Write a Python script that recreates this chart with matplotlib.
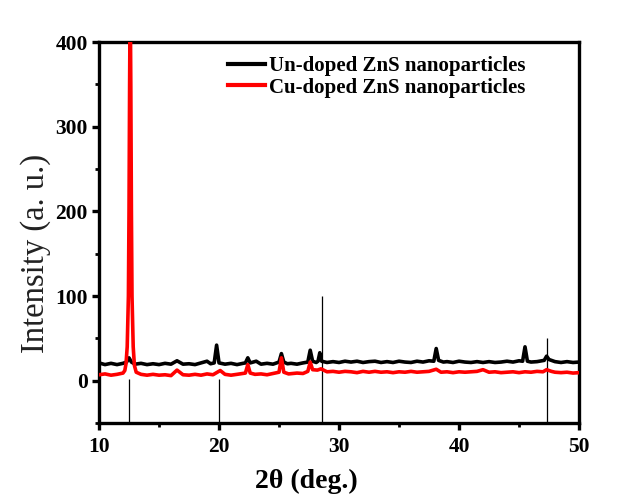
import matplotlib
matplotlib.use('Agg')
import matplotlib.pyplot as plt
from matplotlib.ticker import MultipleLocator

plt.rcParams['font.family'] = ['Liberation Serif', 'DejaVu Serif']

# un-doped ZnS pattern (2theta, intensity)
undoped_x = [10.0, 10.5, 11.0, 11.5, 12.0, 12.3, 12.5, 12.7, 13.0, 13.5,
             14.0, 14.5, 15.0, 15.5, 16.0, 16.5, 17.0, 17.5, 18.0, 18.5,
             19.0, 19.3, 19.6, 19.8, 20.0, 20.5, 21.0, 21.5, 22.0, 22.2,
             22.4, 22.6, 23.1, 23.5, 24.0, 24.5, 25.0, 25.2, 25.4, 25.7,
             26.0, 26.5, 27.0, 27.4, 27.6, 27.8, 28.1, 28.25, 28.4, 28.55,
             29.0, 29.5, 30.0, 30.5, 31.0, 31.5, 32.0, 32.5, 33.0, 33.5,
             34.0, 34.5, 35.0, 35.5, 36.0, 36.5, 37.0, 37.5, 37.9, 38.1,
             38.3, 38.7, 39.0, 39.5, 40.0, 40.5, 41.0, 41.5, 42.0, 42.5,
             43.0, 43.5, 44.0, 44.5, 45.0, 45.3, 45.5, 45.7, 46.0, 46.5,
             47.1, 47.3, 47.5, 48.0, 48.5, 49.0, 49.5, 50.0]
undoped_y = [21, 19, 20.5, 19, 20.5, 22, 27, 22, 19.5, 20.5,
             19, 20, 19, 20.5, 19.5, 23.5, 19.5, 20, 19, 21,
             23, 20, 21, 42, 21, 19.5, 20.5, 19, 20.5, 21,
             27, 21, 23, 19.5, 20.5, 19.5, 22, 32, 22, 20,
             20.5, 19.5, 21, 22, 36, 23, 21.5, 23, 33, 23,
             21.5, 22.5, 21.5, 23, 22, 23, 21.5, 22.5, 23, 21.5,
             22.5, 21.5, 23, 22, 21.5, 23, 22, 23.5, 23, 38,
             24, 22, 22.5, 21.5, 23, 22, 21.5, 22.5, 21.5, 22.5,
             21.5, 22, 23, 22, 23.5, 23, 40, 23, 22, 22.5,
             24, 29, 25, 22.5, 21.5, 22.5, 21.5, 22]

# Cu-doped ZnS pattern
cudoped_x = [10.0, 10.5, 11.0, 11.5, 12.0, 12.15, 12.25, 12.35, 12.45, 12.5,
             12.55, 12.6, 12.65, 12.7, 12.75, 12.85, 12.95, 13.1, 13.5, 14.0,
             14.5, 15.0, 15.5, 16.0, 16.5, 17.0, 17.5, 18.0, 18.5, 19.0,
             19.5, 20.1, 20.5, 21.0, 21.5, 22.2, 22.4, 22.6, 23.0, 23.5,
             24.0, 24.5, 25.0, 25.2, 25.4, 25.8, 26.5, 27.0, 27.4, 27.6,
             27.8, 28.2, 28.5, 29.0, 29.5, 30.0, 30.5, 31.0, 31.5, 32.0,
             32.5, 33.0, 33.5, 34.0, 34.5, 35.0, 35.5, 36.0, 36.5, 37.0,
             37.5, 38.1, 38.5, 39.0, 39.5, 40.0, 40.5, 41.0, 41.5, 42.0,
             42.5, 43.0, 43.5, 44.0, 44.5, 45.0, 45.5, 46.0, 46.5, 47.0,
             47.3, 47.7, 48.0, 48.5, 49.0, 49.5, 50.0]
cudoped_y = [7, 8, 6.5, 7.5, 9, 12, 20, 40, 100, 200,
             350, 460, 350, 200, 100, 40, 18, 10, 7.5, 6.5,
             7.5, 6.5, 7, 6, 12.5, 7, 6.5, 7.5, 6.5, 8,
             7, 12, 7.5, 6.5, 7.5, 9, 19, 9, 7.5, 8,
             7, 8.5, 10, 27, 10, 8, 9, 8.5, 11, 22,
             13, 12.5, 14, 10.5, 11, 10, 11, 10.5, 9.5, 11,
             10, 11, 10, 10.5, 9.5, 10.5, 10, 11, 10, 10.5,
             11, 13.5, 10, 10.5, 9.5, 10.5, 10, 10.5, 11, 13,
             10, 10.5, 9.5, 10, 10.5, 9.5, 10.5, 10, 11, 10.5,
             13, 11, 10, 9.5, 10, 9, 9.5]

# reference stick pattern
ref_pos = [12.5, 20.0, 28.6, 47.3]
ref_top = [2, 2, 100, 50]

fig = plt.figure(figsize=(6.4, 5.03), dpi=100)
ax = fig.add_axes([0.1547, 0.159, 0.7500, 0.7575])

ax.vlines(ref_pos, -50, ref_top, color='black', linewidth=0.9, zorder=1)
ax.plot(undoped_x, undoped_y, color='black', linewidth=2.6,
        label='Un-doped ZnS nanoparticles', zorder=2)
ax.plot(cudoped_x, cudoped_y, color='#ff0000', linewidth=2.6,
        label='Cu-doped ZnS nanoparticles', zorder=3)

ax.set_xlim(10, 50)
ax.set_ylim(-50, 400)
ax.xaxis.set_major_locator(MultipleLocator(10))
ax.xaxis.set_minor_locator(MultipleLocator(5))
ax.yaxis.set_major_locator(MultipleLocator(100))
ax.yaxis.set_minor_locator(MultipleLocator(50))

for s in ax.spines.values():
    s.set_linewidth(2.4)
ax.tick_params(which='major', direction='out', length=5, width=2.4,
               labelsize=15.5, pad=3)
ax.tick_params(axis='x', which='major', pad=5)
ax.tick_params(which='minor', direction='out', length=3, width=2.0)
for lab in ax.get_xticklabels() + ax.get_yticklabels():
    lab.set_fontweight('bold')

ax.set_xlabel('2θ (deg.)', fontsize=20, fontweight='bold')
ax.xaxis.set_label_coords(0.431, -0.12, transform=ax.transAxes)
ax.set_ylabel('Intensity (a. u.)', fontsize=23.5, color='#222222')
ax.yaxis.set_label_coords(-0.1, 0.446, transform=ax.transAxes)

leg = ax.legend(loc='upper left', bbox_to_anchor=(0.268, 0.962), frameon=False,
                prop={'size': 15, 'weight': 'bold'}, handlelength=1.8,
                handletextpad=0.2, labelspacing=0.05, borderpad=0,
                borderaxespad=0)
for line in leg.get_lines():
    line.set_linewidth(3)

fig.savefig('out.png', dpi=100)
